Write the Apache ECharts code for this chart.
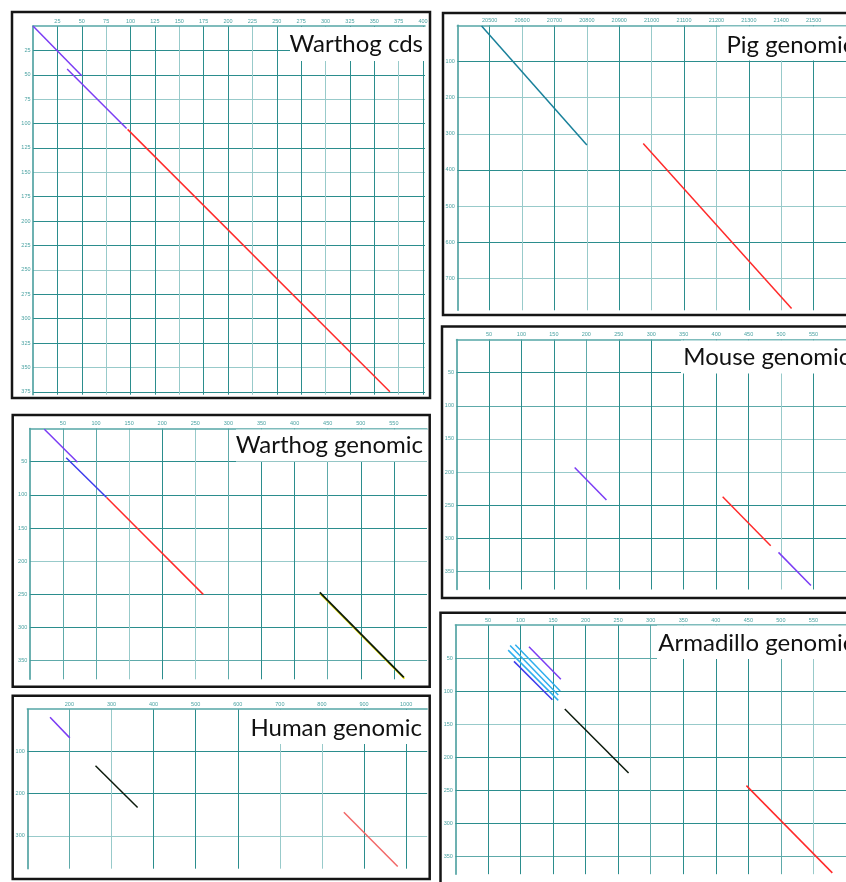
<!DOCTYPE html>
<html>
<head>
<meta charset="utf-8">
<title>Dot plots</title>
<script src="https://cdn.jsdelivr.net/npm/echarts@6/dist/echarts.min.js"></script>
<style>
  html, body { margin: 0; padding: 0; background: #fff; }
  #chart { width: 846px; height: 882px; }
</style>
</head>
<body>
<div id="chart"></div>
<script>
// ---- alignment segments: [xStart, yStart, xEnd, yEnd] ----
const warthogCdsHits = [[0, 0, 50, 51], [35, 44, 96, 105], [97, 106, 366, 375]];
const pigHits = [[20475, 2, 20800, 331], [20974, 327, 21432, 783]];
const mouseHits = [[182, 193, 231, 242], [410, 237, 484, 311], [496, 321, 546, 371]];
const warthogGenomicHits = [[22, 1, 72, 51], [55, 44, 116, 104], [116, 104, 262, 250], [438, 247, 565, 375]];
const humanHits = [[154, 19, 201, 68], [262, 134, 362, 233], [852, 244, 980, 373]];
const armadilloHits = [[113, 33, 162, 82], [92, 30, 161, 100], [84, 31, 158, 106], [81, 38, 158, 114],
                       [90, 55, 149, 113], [168, 127, 266, 224], [447, 243, 579, 375]];

// ---- axis ranges: [min, max, tick step] ----
const warthogCdsX = [0, 402, 25],      warthogCdsY = [0, 378, 25];
const pigX = [20400, 21600, 100],      pigY = [0, 788, 100];
const mouseX = [0, 600, 50],           mouseY = [0, 377, 50];
const warthogGenomicX = [0, 600, 50],  warthogGenomicY = [0, 378, 50];
const humanX = [100, 1050, 100],       humanY = [0, 378, 100];
const armadilloX = [0, 600, 50],       armadilloY = [0, 377, 50];

const panelTitles = ['Warthog cds', 'Pig genomic', 'Mouse genomic', 'Warthog genomic', 'Human genomic', 'Armadillo genomic'];

// ---- styling ----
const palette = {
  purple: '#7b3cf4', blue: '#3c3cec', red: '#ff2a2a', teal: '#18809a',
  black: '#0c1a0c', sky: '#2eaeee', salmon: '#f26868'
};
const D = '#2b8d8d', M = '#5eaaaa', L = '#98caca';

const panels = [
  { hits: warthogCdsHits, xr: warthogCdsX, yr: warthogCdsY,
    colors: ['purple', 'purple', 'red'],
    grid: { left: 33, top: 26, width: 392, height: 368.7 },
    xLines: [D, D, L, D, D, L, D, D, L, D, D, L, D, D, L, D],
    yLines: [D, D, L, D, D, L, D, D, D, L, D, D, D, L, D],
    frame: [12, 12, 418, 386],
    box: [290, 27, 135, 34], text: { x: 423, y: 44, align: 'right' } },
  { hits: pigHits, xr: pigX, yr: pigY,
    colors: ['teal', 'red'],
    grid: { left: 457.3, top: 25.3, width: 432.5, height: 285 },
    xLines: [D, L, D, L, D, L, D, L, D, L, D],
    yLines: [D, L, L, D, L, D, L],
    frame: [443, 13, 440, 302],
    box: [720, 26.5, 140, 34], text: { x: 726.5, y: 45, align: 'left' } },
  { hits: mouseHits, xr: mouseX, yr: mouseY,
    colors: ['purple', 'red', 'purple'],
    grid: { left: 456.5, top: 339.5, width: 396, height: 250 },
    xLines: [D, D, D, M, D, D, D, D, D, L, D],
    yLines: [D, M, L, L, D, D, M],
    frame: [442, 326.5, 440, 271.5],
    box: [681, 340.5, 170, 33], text: { x: 683.3, y: 357.7, align: 'left' } },
  { hits: warthogGenomicHits, xr: warthogGenomicX, yr: warthogGenomicY,
    colors: ['purple', 'blue', 'red', 'black'],
    grid: { left: 29.8, top: 428.5, width: 397.2, height: 250.8 },
    xLines: [M, M, L, D, L, M, D, D, M, D, D],
    yLines: [D, D, D, L, D, D, M],
    frame: [12.7, 415, 417, 271.7],
    box: [236, 429.5, 191, 32], text: { x: 423, y: 445, align: 'right' } },
  { hits: humanHits, xr: humanX, yr: humanY,
    colors: ['purple', 'black', 'salmon'],
    grid: { left: 27.3, top: 709.2, width: 399.9, height: 159.5 },
    xLines: [M, L, D, D, D, L, L, D, D],
    yLines: [D, D, L],
    frame: [12.7, 695.7, 417, 183.3],
    box: [250, 710, 177, 34], text: { x: 422, y: 728, align: 'right' } },
  { hits: armadilloHits, xr: armadilloX, yr: armadilloY,
    colors: ['purple', 'sky', 'sky', 'sky', 'blue', 'black', 'red'],
    grid: { left: 455.4, top: 625, width: 395.6, height: 249.2 },
    xLines: [D, D, D, D, D, M, D, D, D, M, L],
    yLines: [M, D, L, D, D, D, M],
    frame: [440.5, 612.7, 440, 300],
    box: [657, 625.5, 190, 33.5], text: { x: 658.3, y: 643, align: 'left' } }
];

const labelStyle = {
  fontSize: 5.5, color: '#4aa2a2', fontFamily: 'Liberation Sans',
  formatter: v => String(v)
};

const grids = [], xAxes = [], yAxes = [], series = [], graphics = [];

panels.forEach((p, i) => {
  grids.push(Object.assign({ containLabel: false }, p.grid));

  xAxes.push({
    type: 'value', gridIndex: i, position: 'top',
    min: p.xr[0], max: p.xr[1], interval: p.xr[2],
    axisLine: { show: true, onZero: false, lineStyle: { color: '#55a6a6', width: 1.5 } },
    axisTick: { show: false },
    axisLabel: Object.assign({ margin: 2, showMinLabel: false, showMaxLabel: false }, labelStyle),
    splitLine: { show: true, showMinLine: false, showMaxLine: false,
                 lineStyle: { color: p.xLines, width: 1 } }
  });

  yAxes.push({
    type: 'value', gridIndex: i, position: 'left', inverse: true,
    min: p.yr[0], max: p.yr[1], interval: p.yr[2],
    axisLine: { show: true, onZero: false, lineStyle: { color: '#3d9797', width: 1.5 } },
    axisTick: { show: false },
    axisLabel: Object.assign({ margin: 2.5, showMinLabel: false, showMaxLabel: false }, labelStyle),
    splitLine: { show: true, showMinLine: false, showMaxLine: false,
                 lineStyle: { color: p.yLines, width: 1 } }
  });

  p.hits.forEach((h, j) => {
    const key = p.colors[j];
    const lineStyle = { color: palette[key], width: 1.5 };
    // the long black hit in the warthog genomic plot carries a yellow companion trace
    if (i === 3 && key === 'black') {
      Object.assign(lineStyle, { width: 1.8, shadowColor: '#f0e800', shadowBlur: 0, shadowOffsetX: 0.6, shadowOffsetY: 1.4 });
    }
    series.push({
      type: 'line', xAxisIndex: i, yAxisIndex: i,
      data: [[h[0], h[1]], [h[2], h[3]]],
      showSymbol: false, silent: true, animation: false,
      lineStyle: lineStyle, z: 3
    });
  });

  // panel frame (kept beneath the axis labels)
  graphics.push({
    type: 'rect', z: -1, silent: true,
    shape: { x: p.frame[0], y: p.frame[1], width: p.frame[2], height: p.frame[3] },
    style: { fill: null, stroke: '#151515', lineWidth: 2.5 }
  });
  // title plate
  graphics.push({
    type: 'rect', z: 40, silent: true,
    shape: { x: p.box[0], y: p.box[1], width: p.box[2], height: p.box[3] },
    style: { fill: '#ffffff' }
  });
  graphics.push({
    type: 'text', z: 41, silent: true,
    x: p.text.x, y: p.text.y,
    style: { text: panelTitles[i], fontFamily: 'Lato', fontSize: 24, fill: '#111111',
             align: p.text.align, verticalAlign: 'middle' }
  });
});

const chart = echarts.init(document.getElementById('chart'), null, { renderer: 'canvas' });
chart.setOption({
  backgroundColor: '#ffffff',
  animation: false,
  grid: grids,
  xAxis: xAxes,
  yAxis: yAxes,
  series: series,
  graphic: graphics
});
</script>
</body>
</html>
